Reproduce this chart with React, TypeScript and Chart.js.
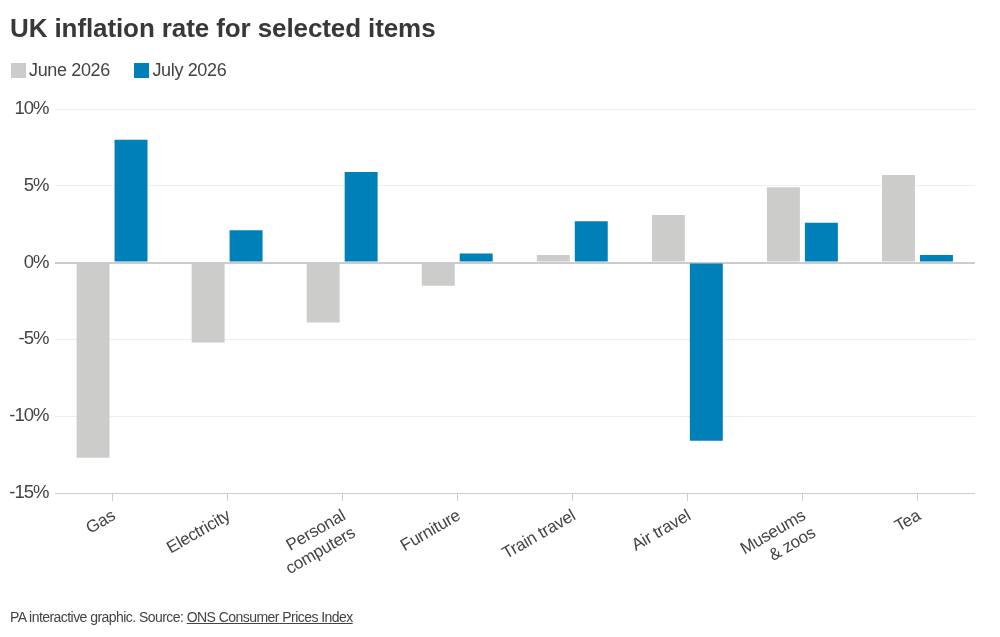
import { useEffect, useRef } from 'react'
import { Chart, registerables } from 'chart.js'

Chart.register(...registerables)

const categories = [
  'Gas',
  'Electricity',
  ['Personal', 'computers'],
  'Furniture',
  'Train travel',
  'Air travel',
  ['Museums', '& zoos'],
  'Tea',
]
const june = [-12.7, -5.2, -3.9, -1.5, 0.5, 3.1, 4.9, 5.7]
const july = [8.0, 2.1, 5.9, 0.6, 2.7, -11.6, 2.6, 0.5]
const seriesNames = ['June 2026', 'July 2026']
const seriesColors = ['#cccccb', '#0080b8']

const FONT = '"Liberation Sans", Arial, sans-serif'
const TEXT = '#444444'

// canvas text has no letter-spacing option in chart.js, so wrap the scale's label drawing
function trackLabels(scale: any, spacing: string) {
  if (scale.trackedLabels) return
  scale.trackedLabels = true
  const draw = scale.drawLabels
  scale.drawLabels = function (area: any) {
    const ctx = scale.ctx
    ctx.save()
    ctx.letterSpacing = spacing
    draw.call(scale, area)
    ctx.restore()
  }
}

export default function App() {
  const chartRef = useRef<HTMLCanvasElement>(null)

  useEffect(() => {
    if (!chartRef.current) return
    document.body.style.margin = '0'

    const chart = new Chart(chartRef.current, {
      type: 'bar',
      data: {
        labels: categories,
        datasets: [
          { label: seriesNames[0], data: june, backgroundColor: seriesColors[0], barPercentage: 0.868, categoryPercentage: 0.66 },
          { label: seriesNames[1], data: july, backgroundColor: seriesColors[1], barPercentage: 0.868, categoryPercentage: 0.66 },
        ],
      },
      options: {
        animation: false,
        responsive: false,
        layout: { padding: { top: 109, right: 25, left: 0, bottom: 0 } },
        plugins: {
          legend: { display: false },
          title: { display: false },
          tooltip: { enabled: false },
        },
        scales: {
          x: {
            afterFit: (scale) => {
              scale.height = 144
              trackLabels(scale, '-0.25px')
            },
            border: { display: false },
            grid: {
              drawOnChartArea: false,
              drawTicks: true,
              tickLength: 8,
              tickColor: '#cccccc',
              offset: false,
            },
            ticks: {
              color: TEXT,
              font: { family: FONT, size: 17, lineHeight: 1.17 },
              minRotation: 30,
              maxRotation: 30,
              autoSkip: false,
              padding: 5,
              labelOffset: 2,
            },
          },
          y: {
            min: -15,
            max: 10,
            afterFit: (scale) => {
              scale.width = 54.5
              trackLabels(scale, '-1px')
            },
            border: { display: false },
            grid: {
              drawTicks: false,
              color: (ctx) => (ctx.tick.value === 0 || ctx.tick.value === -15 ? '#cccccc' : '#eeeeee'),
              lineWidth: (ctx) => (ctx.tick.value === 0 ? 2 : 1),
            },
            ticks: {
              stepSize: 5,
              color: TEXT,
              font: { family: FONT, size: 18.5 },
              padding: 6,
              callback: (v) => `${v}%`,
            },
          },
        },
      },
    })

    return () => {
      chart.destroy()
    }
  }, [])

  return (
    <div style={{ position: 'relative', width: 1000, height: 637, fontFamily: FONT, color: TEXT, background: '#fff', overflow: 'hidden' }}>
      <canvas ref={chartRef} width={1000} height={637} style={{ position: 'absolute', left: 0, top: 0 }} />
      <div style={{ position: 'absolute', left: 10, top: 13, fontSize: 26, fontWeight: 700, letterSpacing: -0.1, color: '#383838', whiteSpace: 'nowrap' }}>
        UK inflation rate for selected items
      </div>
      <div style={{ position: 'absolute', left: 11, top: 60, display: 'flex', fontSize: 18, lineHeight: '21px', letterSpacing: -0.35 }}>
        {seriesNames.map((name, i) => (
          <div key={name} style={{ display: 'flex', alignItems: 'center', marginRight: 24.5 }}>
            <span style={{ width: 15, height: 15, background: seriesColors[i], marginRight: 3 }} />
            {name}
          </div>
        ))}
      </div>
      <div style={{ position: 'absolute', left: 10, top: 609, fontSize: 14, letterSpacing: -0.55, whiteSpace: 'nowrap' }}>
        PA interactive graphic. Source: <span style={{ textDecoration: 'underline' }}>ONS Consumer Prices Index</span>
      </div>
    </div>
  )
}
